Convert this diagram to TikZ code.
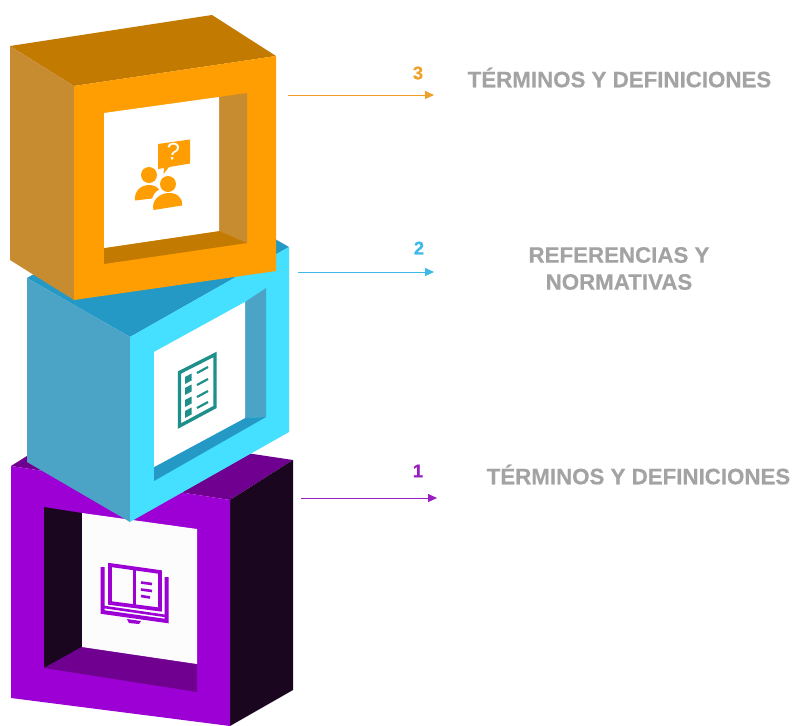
\documentclass[tikz,border=0pt]{standalone}
\usepackage{fontspec}
\setmainfont[BoldFeatures={FakeBold=0.5}]{Liberation Sans}
\usetikzlibrary{arrows.meta}
\definecolor{orA}{HTML}{FF9E03}
\definecolor{orT}{HTML}{C27A00}
\definecolor{orL}{HTML}{C78B30}
\definecolor{cyA}{HTML}{45DFFF}
\definecolor{cyT}{HTML}{2499C6}
\definecolor{cyL}{HTML}{4BA4C5}
\definecolor{puA}{HTML}{9C00D4}
\definecolor{puT}{HTML}{6F0090}
\definecolor{puD}{HTML}{1B0620}
\definecolor{teal}{HTML}{1E8F8A}
\definecolor{gr}{HTML}{A3A3A3}
\definecolor{orM}{HTML}{EFA02A}
\definecolor{cyM}{HTML}{3DB8E8}
\definecolor{puM}{HTML}{9A1CC4}
\tikzset{
  lead/.style={draw=#1,line width=1pt,-{Triangle[length=9pt,width=8pt]}},
  num/.style={text=#1,font=\bfseries\fontsize{18.5}{20}\selectfont,anchor=center,inner sep=0pt},
  lbl/.style={text=gr,font=\bfseries\fontsize{22.3}{27}\selectfont,align=center,inner sep=0pt},
}
\begin{document}
\begin{tikzpicture}[x=1pt,y=-1pt]
\useasboundingbox (0,0) rectangle (796,726);
\fill[white] (0,0) rectangle (796,726);
% purple box
\fill[puT] (11,466) -- (73,427) -- (293,460) -- (230,500) -- cycle;
\fill[puD] (230,500) -- (293,460) -- (293,690) -- (230,726) -- cycle;
\fill[puA] (11,466) -- (230,500) -- (230,726) -- (11,698) -- cycle;
\fill[puD] (44,507) -- (82,513) -- (82,647) -- (44,668) -- cycle;
\fill[puT] (44,668) -- (82,647) -- (197,664) -- (197,692) -- cycle;
\fill[white!98!gray] (82,513) -- (197,529) -- (197,664) -- (82,647) -- cycle;
% book icon
\begin{scope}[draw=puA,line join=miter]
\draw[line width=3.8pt] (110,565) -- (160,572) -- (160,609.5) -- (110,603) -- cycle;
\draw[line width=3.4pt] (134.5,568) -- (134.5,607);
\draw[line width=4pt] (102.5,567) -- (102.5,612) -- (166.5,621) -- (166.5,577);
\draw[line width=2.6pt] (104,607) -- (166,616);
\draw[line width=2.6pt] (141,582.5) -- (152,584);
\draw[line width=2.6pt] (141,589.5) -- (152,591);
\draw[line width=2.6pt] (141,596) -- (150,597.5);
\fill[puA] (127,619) -- (141,621) -- (139,624) -- (129,623) -- cycle;
\end{scope}
% cyan box
\fill[cyT] (27,278) -- (186,188) -- (289,247) -- (130,337) -- cycle;
\fill[cyL] (27,278) -- (130,337) -- (130,522) -- (27,462) -- cycle;
\fill[cyA] (130,337) -- (289,247) -- (289,432) -- (130,522) -- cycle;
\fill[cyL] (245,302) -- (266,288) -- (266,417) -- (245,418) -- cycle;
\fill[cyT] (154,467) -- (245,418) -- (266,417) -- (154,481) -- cycle;
\fill[white] (154,352) -- (245,302) -- (245,418) -- (154,467) -- cycle;
% document icon
\draw[teal,line width=3.4pt] (179.5,372.5) -- (215,354.5) -- (215,407) -- (179.5,426) -- cycle;
\foreach \yy in {378,389,401,412}{\fill[teal] (185,\yy-1) -- (191.5,\yy-4.5) -- (191.5,\yy+2.5) -- (185,\yy+6) -- cycle;}
\foreach \yy in {373,385,397,408}{\draw[teal,line width=2.2pt] (197,\yy) -- (208,\yy-6);}
% orange box
\fill[orT] (10,46) -- (212,15) -- (276,56) -- (74,86) -- cycle;
\fill[orL] (10,46) -- (74,86) -- (74,300) -- (10,260) -- cycle;
\fill[orA] (74,86) -- (276,56) -- (276,271) -- (74,300) -- cycle;
\fill[orL] (219,97) -- (247,93) -- (247,243) -- (219,231) -- cycle;
\fill[orT] (104,248) -- (219,231) -- (247,243) -- (104,264) -- cycle;
\fill[white] (104,113) -- (219,97) -- (219,231) -- (104,248) -- cycle;
% people icon
\fill[orA] (158,144) -- (190,139.5) -- (190,163.5) -- (169,167) -- (163.5,174) -- (164,168) -- (158,169) -- cycle;
\node[text=white,font=\fontsize{24}{24}\selectfont,inner sep=0pt,rotate=-4] (q) at (173,152) {?};
\fill[orA] (149,175) circle (8pt);
\fill[orA] (135,200.5) .. controls (134,191) and (141,185) .. (149,185) .. controls (153,185) and (157,186.5) .. (159,189.5) .. controls (155,192) and (153,195) .. (152,198.5) -- cycle;
\fill[orA] (168,184) circle (8pt);
\fill[orA] (153.5,210) .. controls (151,200) and (160,193.5) .. (168,193) .. controls (176,192.5) and (183,197) .. (182,205.5) -- cycle;
% anchors for the leaders
\coordinate (a3) at (288,95); \coordinate (b3) at (434,95);
\coordinate (a2) at (298,272); \coordinate (b2) at (434,272);
\coordinate (a1) at (301,498); \coordinate (b1) at (437,498);
\draw[lead=orM] (a3) -- (b3);
\draw[lead=cyM] (a2) -- (b2);
\draw[lead=puM] (a1) -- (b1);
\node[num=orM] (n3) at (418,73) {3};
\node[num=cyM] (n2) at (419,248) {2};
\node[num=puM] (n1) at (418,471) {1};
\node[lbl] (t3) at (619.5,77.5) {TÉRMINOS Y DEFINICIONES};
\node[lbl] (t2) at (619,268.5) {REFERENCIAS Y\\NORMATIVAS};
\node[lbl] (t1) at (638.5,474.5) {TÉRMINOS Y DEFINICIONES};
\end{tikzpicture}
\end{document}
